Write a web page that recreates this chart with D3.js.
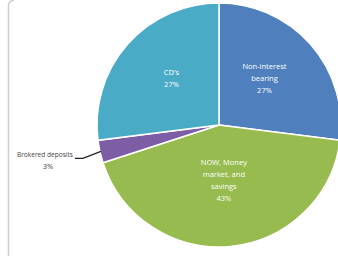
<!DOCTYPE html>
<html>
<head>
<meta charset="utf-8">
<script src="https://cdn.jsdelivr.net/npm/d3@7"></script>
<style>
  body { margin: 0; background: #fff; }
  svg { display: block; }
</style>
</head>
<body>
<div id="chart"></div>
<script>
// slice data, clockwise from 12 o'clock
var categories = ["Non-interest bearing", "NOW, Money market, and savings", "Brokered deposits", "CD's"];
var values = [27, 43, 3, 27];
var labelLines = [["Non-interest", "bearing"], ["NOW, Money", "market, and", "savings"], ["Brokered deposits"], ["CD's"]];
var colors = ["#4f7fbd", "#98bb4f", "#7d5ea6", "#4aabc7"];

var W = 338, H = 256;
var cx = 219, cy = 125, radius = 122;

var svg = d3.select("#chart").append("svg")
    .attr("width", W)
    .attr("height", H);

// chart area border (left edge + rounded corner)
svg.append("path")
    .attr("d", "M8.5," + H + " L8.5,6 Q8.5,0.5 14,0.5")
    .attr("fill", "none")
    .attr("stroke", "#cfcfcf")
    .attr("stroke-width", 1.5);

var data = categories.map(function(c, i) { return {name: c, value: values[i], lines: labelLines[i], color: colors[i]}; });

var pie = d3.pie().sort(null).value(function(d) { return d.value; });
var arcs = pie(data);

var arc = d3.arc().innerRadius(0).outerRadius(radius);
var labelArc = d3.arc().innerRadius(62).outerRadius(62);

var g = svg.append("g").attr("transform", "translate(" + cx + "," + cy + ")");

g.selectAll("path.slice")
    .data(arcs)
    .enter().append("path")
    .attr("class", "slice")
    .attr("d", arc)
    .attr("fill", function(d) { return d.data.color; })
    .attr("stroke", "#fff")
    .attr("stroke-width", 1.5);

var fontSize = 7.5, lineH = 12;

// inside labels
arcs.forEach(function(d, i) {
    if (d.data.value < 5) return;
    var c = labelArc.centroid(d);
    var lines = d.data.lines.concat([d.data.value + "%"]);
    var n = lines.length;
    var t = g.append("text")
        .attr("text-anchor", "middle")
        .attr("font-family", "'Open Sans', 'DejaVu Sans', sans-serif")
        .attr("font-size", fontSize)
        .attr("fill", "#fff");
    lines.forEach(function(l, k) {
        t.append("tspan")
            .attr("x", c[0] - 1)
            .attr("y", c[1] - 6 + (k - (n - 1) / 2) * lineH)
            .attr("dy", "0.35em")
            .text(l);
    });
});

// outside label with leader line for the small slice
arcs.forEach(function(d) {
    if (d.data.value >= 5) return;
    var mid = (d.startAngle + d.endAngle) / 2;
    var p0 = [Math.sin(mid) * (radius - 1), -Math.cos(mid) * (radius - 1)];
    var lx = p0[0] - 26, ly = p0[1] + 7;
    g.append("path")
        .attr("d", "M" + p0[0] + "," + p0[1] +
                   " L" + (lx + 8) + "," + ly +
                   " L" + lx + "," + ly)
        .attr("fill", "none")
        .attr("stroke", "#222")
        .attr("stroke-width", 1.2);
    var t = g.append("text")
        .attr("text-anchor", "middle")
        .attr("font-family", "'Open Sans', 'DejaVu Sans', sans-serif")
        .attr("font-size", fontSize)
        .attr("fill", "#444");
    t.append("tspan").attr("x", lx - 30).attr("y", ly - 1).text(d.data.lines[0])
        .attr("textLength", 56).attr("lengthAdjust", "spacingAndGlyphs");
    t.append("tspan").attr("x", lx - 27).attr("y", ly + 11).text(d.data.value + "%");
});
</script>
</body>
</html>
